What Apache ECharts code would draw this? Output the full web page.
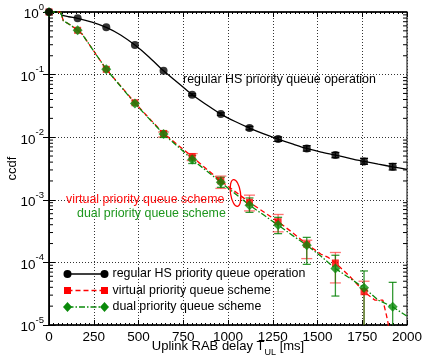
<!DOCTYPE html>
<html><head><meta charset="utf-8">
<script src="https://cdn.jsdelivr.net/npm/echarts@6/dist/echarts.min.js"></script>
<style>html,body{margin:0;padding:0;background:#fff}#c{width:422px;height:360px}</style>
</head><body><div id="c"></div>
<script>
// ---- data ----
const markerX = [0,160,320,480,640,800,960,1120,1280,1440,1600,1760,1920];
const regularY = [1,0.793,0.569,0.296,0.115,0.0476,0.0234,0.0140,0.00933,0.0066,0.00518,0.0041,0.00337];
const virtualY = [1,0.51,0.1213,0.0355,0.01148,0.0049,0.0020,0.000912,0.000447,0.000195,0.000098,0.000034,null];
const dualY    = [1,0.509,0.1213,0.0347,0.0112,0.00442,0.0019,0.000822,0.000394,0.000188,0.0000798,0.0000392,0.0000195];

const regularTrace = [[0,1],[62,1],[70,0.9],[110,0.84],[160,0.793],[240,0.69],[320,0.569],[400,0.43],[480,0.296],[560,0.19],[640,0.115],[720,0.074],[800,0.0476],[880,0.033],[960,0.0234],[1040,0.0178],[1120,0.014],[1200,0.0113],[1280,0.00933],[1360,0.0078],[1440,0.0066],[1520,0.0058],[1600,0.00518],[1680,0.0046],[1760,0.0041],[1840,0.0037],[1920,0.00337],[2000,0.00306]];
const virtualTrace = [[0,1],[65,1],[80,0.726],[120,0.62],[160,0.51],[185,0.445],[320,0.1213],[400,0.066],[480,0.0355],[560,0.02],[640,0.01148],[720,0.0075],[800,0.0049],[880,0.0031],[960,0.002],[1040,0.00135],[1120,0.000912],[1200,0.00064],[1280,0.000447],[1360,0.0003],[1440,0.000195],[1520,0.000135],[1560,0.00012],[1600,0.000098],[1680,0.00006],[1760,0.000034],[1820,0.000025],[1865,0.000025],[1885,0.0000144],[1895,0.0000105],[1905,0.000001]];
const dualTrace = [[0,1],[65,1],[80,0.726],[120,0.62],[160,0.509],[185,0.445],[320,0.1213],[400,0.065],[480,0.0347],[560,0.0196],[640,0.0112],[720,0.0071],[800,0.00442],[880,0.0029],[960,0.0019],[1040,0.00125],[1120,0.000822],[1200,0.00057],[1280,0.000394],[1360,0.00027],[1440,0.000188],[1520,0.000125],[1600,0.0000798],[1680,0.000056],[1760,0.0000392],[1840,0.0000249],[1920,0.0000195],[2000,0.0000138]];

const virtualErrX    = [640,800,960,1120,1280,1440,1600,1760];
const virtualErrLow  = [0.01005,0.00423,0.00152,0.000665,0.000308,0.000115,0.000047,0.000001];
const virtualErrHigh = [0.0121,0.00547,0.00239,0.001186,0.000583,0.000226,0.000144,0.00005];
const dualErrX    = [640,800,960,1120,1280,1440,1600,1760,1920];
const dualErrLow  = [0.0099,0.0038,0.00158,0.00063,0.000288,0.000093,0.000029,0.000001,0.000001];
const dualErrHigh = [0.0125,0.0051,0.00229,0.00107,0.000525,0.000251,0.00013,0.000073,0.000048];
const regularErrX    = [800,960,1120,1280,1440,1600,1760,1920];
const regularErrLow  = [0.046,0.0224,0.0131,0.0086,0.006,0.0047,0.0037,0.0030];
const regularErrHigh = [0.0493,0.0245,0.0149,0.0101,0.0073,0.0057,0.0046,0.0038];

const xTicks = [0,250,500,750,1000,1250,1500,1750,2000];
const yMinorTicks = [];
for (let d = -5; d < 0; d++) for (let k = 2; k <= 9; k++) yMinorTicks.push(k * Math.pow(10, d));

const seriesNames = ['regular HS priority queue operation','virtual priority queue scheme','dual priority queue scheme'];

// ---- styles ----
const FONT = 'Liberation Sans, Arial, Helvetica, sans-serif';
const BLACK = '#000000', RED = '#ff0000', GREEN = '#0a8a0a';

function zip(xs, ys){ return xs.map((x,i)=>[x, ys[i]]).filter(p=>p[1]!=null); }
function zip3(xs, lo, hi){ return xs.map((x,i)=>[x, lo[i], hi[i]]); }

function errRender(color, capW, lw){
  return function(params, api){
    const cs = params.coordSys;
    const x = api.value(0);
    const pHi = api.coord([x, api.value(2)]);
    const pLo = api.coord([x, api.value(1)]);
    const bottom = cs.y + cs.height;
    const loClamped = pLo[1] > bottom;
    const yLo = Math.min(pLo[1], bottom);
    const st = {stroke: color, lineWidth: lw};
    const ch = [{type:'line', shape:{x1:pHi[0], y1:pHi[1], x2:pHi[0], y2:yLo}, style: st},
                {type:'line', shape:{x1:pHi[0]-capW/2, y1:pHi[1], x2:pHi[0]+capW/2, y2:pHi[1]}, style: st}];
    if (!loClamped) ch.push({type:'line', shape:{x1:pLo[0]-capW/2, y1:pLo[1], x2:pLo[0]+capW/2, y2:pLo[1]}, style: st});
    return {type:'group', children: ch};
  };
}

const chart = echarts.init(document.getElementById('c'), null, {renderer:'canvas'});

const option = {
  animation: false,
  backgroundColor: '#fff',
  textStyle: {fontFamily: FONT},
  grid: {left: 49, right: 15, top: 12, bottom: 35, show: true, borderColor: '#000', borderWidth: 1,
         containLabel: false, outerBoundsMode: 'none'},
  xAxis: [{
    type: 'value', min: 0, max: 2000, interval: 250, position: 'bottom',
    axisLine: {lineStyle: {color: '#000', width: 1.5}},
    axisTick: {inside: true, length: 5, lineStyle: {color: '#000'}},
    minorTick: {show: true, splitNumber: 10, length: 2, lineStyle: {color: '#000'}},
    axisLabel: {color: '#000', fontSize: 13.5, fontFamily: FONT, margin: 5,
      formatter: v => xTicks.includes(v) ? String(v) : ''},
    splitLine: {show: true, lineStyle: {color: '#333', type: [1, 2], width: 1}},
    name: '{b|Uplink RAB delay T}{sub|UL}{b| [ms]}',
    nameLocation: 'middle', nameGap: 15, nameMoveOverlap: false,
    nameTextStyle: {rich: {
      b: {fontSize: 13, fontFamily: FONT, color: '#000', lineHeight: 17, height: 13, verticalAlign: 'top'},
      sub: {fontSize: 9, fontFamily: FONT, color: '#000', lineHeight: 17, height: 9, verticalAlign: 'bottom'}
    }}
  }, {
    type: 'value', min: 0, max: 2000, interval: 250, position: 'top',
    axisLine: {lineStyle: {color: '#000', width: 1.5}},
    axisTick: {inside: true, length: 5, lineStyle: {color: '#000'}},
    minorTick: {show: true, splitNumber: 10, length: 2, lineStyle: {color: '#000'}},
    axisLabel: {show: false}, splitLine: {show: false}
  }],
  yAxis: [{
    type: 'log', logBase: 10, min: 0.00001, max: 1, position: 'left',
    axisLine: {lineStyle: {color: '#000', width: 1}},
    axisTick: {inside: true, length: 6, lineStyle: {color: '#000'}},
    axisLabel: {color: '#000', margin: 5,
      formatter: v => '{b|10}{s|' + Math.round(Math.log10(v)) + '}',
      rich: {
        b: {fontSize: 13.5, fontFamily: FONT, color: '#000', lineHeight: 19, height: 13.5, verticalAlign: 'bottom'},
        s: {fontSize: 9.5, fontFamily: FONT, color: '#000', lineHeight: 19, height: 9.5, verticalAlign: 'top'}
      }},
    splitLine: {show: true, lineStyle: {color: '#333', type: [1, 2], width: 1}},
    name: 'ccdf', nameLocation: 'middle', nameGap: 30, nameMoveOverlap: false,
    nameTextStyle: {fontSize: 13, fontFamily: FONT, color: '#000'}
  }, {
    type: 'log', logBase: 10, min: 0.00001, max: 1, position: 'right',
    axisLine: {lineStyle: {color: '#000', width: 1.5}},
    axisTick: {inside: true, length: 6, lineStyle: {color: '#000'}},
    axisLabel: {show: false}, splitLine: {show: false}
  }],
  series: [
    {type: 'custom', name: 'minorTicks', silent: true, z: 5,
     data: yMinorTicks.map(v => [0, v]),
     renderItem: function(params, api){
       const cs = params.coordSys;
       const y = api.coord([0, api.value(1)])[1];
       const st = {stroke: '#000', lineWidth: 1};
       return {type: 'group', children: [
         {type: 'line', shape: {x1: cs.x, y1: y, x2: cs.x + 4, y2: y}, style: st},
         {type: 'line', shape: {x1: cs.x + cs.width - 4, y1: y, x2: cs.x + cs.width, y2: y}, style: st}
       ]};
     }},
    {type: 'line', name: seriesNames[0] + ' trace', data: regularTrace, showSymbol: false, smooth: 0.3,
     lineStyle: {color: BLACK, width: 1.3}, z: 3},
    {type: 'line', name: seriesNames[1] + ' trace', data: virtualTrace, showSymbol: false,
     lineStyle: {color: RED, width: 1.3, type: [5, 3]}, z: 3},
    {type: 'line', name: seriesNames[2] + ' trace', data: dualTrace, showSymbol: false,
     lineStyle: {color: GREEN, width: 1.3, type: [6, 2, 1.5, 2]}, z: 3},
    {type: 'custom', name: 'virtual err', data: zip3(virtualErrX, virtualErrLow, virtualErrHigh),
     renderItem: errRender('rgba(255,40,40,0.65)', 11, 1.3), z: 4},
    {type: 'custom', name: 'dual err', data: zip3(dualErrX, dualErrLow, dualErrHigh),
     renderItem: errRender('rgba(0,128,0,0.8)', 8, 1.3), z: 4},
    {type: 'custom', name: 'regular err', data: zip3(regularErrX, regularErrLow, regularErrHigh),
     renderItem: errRender(BLACK, 8, 1.3), z: 4},
    {type: 'scatter', name: seriesNames[1], data: zip(markerX, virtualY), symbol: 'rect', symbolSize: 7,
     itemStyle: {color: RED}, z: 6},
    {type: 'scatter', name: seriesNames[2], data: zip(markerX, dualY), symbol: 'diamond', symbolSize: 10,
     itemStyle: {color: GREEN}, z: 7},
    {type: 'scatter', name: seriesNames[0], data: zip(markerX, regularY), symbol: 'circle', symbolSize: 8,
     itemStyle: {color: BLACK}, z: 8}
  ],
  graphic: [
    // annotations
    {type: 'text', left: 183, top: 74, z: 100,
     style: {text: 'regular HS priority queue operation', fontSize: 12.4, fontFamily: FONT, fill: '#000'}},
    {type: 'text', left: 66, top: 194, z: 100,
     style: {text: 'virtual priority queue scheme', fontSize: 12.4, fontFamily: FONT, fill: '#ff1010'}},
    {type: 'text', left: 77, top: 208, z: 100,
     style: {text: 'dual priority queue scheme', fontSize: 12.4, fontFamily: FONT, fill: '#1e961e'}},
    {type: 'ellipse', x: 235.5, y: 193, rotation: 0.15, z: 100,
     shape: {cx: 0, cy: 0, rx: 5, ry: 13.5}, style: {fill: 'none', stroke: '#ff0000', lineWidth: 1.3}},
    // legend
    {type: 'group', left: 63, top: 268, z: 100, children: [
      {type: 'line', shape: {x1: 4, y1: 5, x2: 41, y2: 5}, style: {stroke: BLACK, lineWidth: 1.3}},
      {type: 'circle', shape: {cx: 4, cy: 5, r: 4}, style: {fill: BLACK}},
      {type: 'circle', shape: {cx: 41, cy: 5, r: 4}, style: {fill: BLACK}},
      {type: 'text', x: 49, y: 5, style: {text: seriesNames[0], fontSize: 12.4, fontFamily: FONT, fill: '#000', verticalAlign: 'middle'}},
      {type: 'line', shape: {x1: 4, y1: 21.5, x2: 41, y2: 21.5}, style: {stroke: RED, lineWidth: 1.3, lineDash: [5, 3]}},
      {type: 'rect', shape: {x: 0.5, y: 18, width: 7, height: 7}, style: {fill: RED}},
      {type: 'rect', shape: {x: 37.5, y: 18, width: 7, height: 7}, style: {fill: RED}},
      {type: 'text', x: 49, y: 21.5, style: {text: seriesNames[1], fontSize: 12.4, fontFamily: FONT, fill: '#000', verticalAlign: 'middle'}},
      {type: 'line', shape: {x1: 4, y1: 38, x2: 41, y2: 38}, style: {stroke: GREEN, lineWidth: 1.3, lineDash: [6, 2, 1.5, 2]}},
      {type: 'polygon', shape: {points: [[4, 33], [8.5, 38], [4, 43], [-0.5, 38]]}, style: {fill: GREEN}},
      {type: 'polygon', shape: {points: [[41, 33], [45.5, 38], [41, 43], [36.5, 38]]}, style: {fill: GREEN}},
      {type: 'text', x: 49, y: 38, style: {text: seriesNames[2], fontSize: 12.4, fontFamily: FONT, fill: '#000', verticalAlign: 'middle'}}
    ]}
  ]
};
chart.setOption(option);
</script></body></html>
